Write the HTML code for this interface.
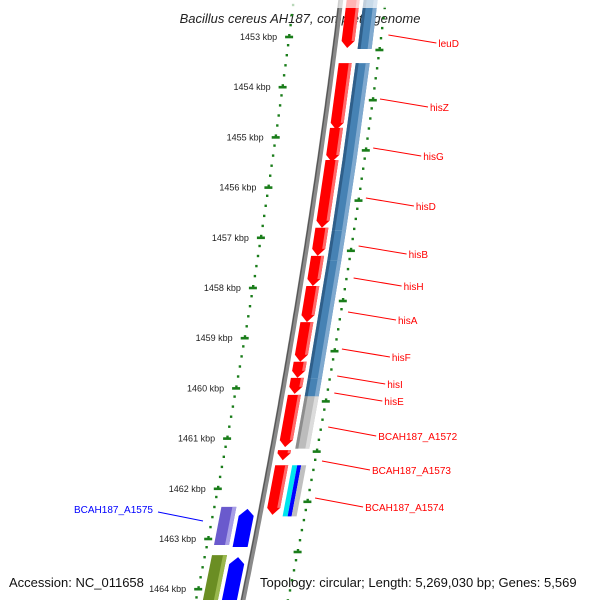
<!DOCTYPE html>
<html><head><meta charset="utf-8"><style>
html,body{margin:0;padding:0;background:#fff;}
svg{display:block;font-family:"Liberation Sans","DejaVu Sans",sans-serif;}
</style></head><body>
<svg id="map" width="600" height="600" viewBox="0 0 600 600" xmlns="http://www.w3.org/2000/svg">
<rect width="600" height="600" fill="#fff"/>
<text x="300" y="23" text-anchor="middle" font-size="13" font-style="italic" fill="#222">Bacillus cereus AH187, complete genome</text>
<g id="layer"></g>
<text x="9" y="587" font-size="13" fill="#111">Accession: NC_011658</text>
<text x="260" y="587" font-size="13" fill="#111">Topology: circular; Length: 5,269,030 bp; Genes: 5,569</text>
</svg>
<script>
const tickKbp = [1453,1454,1455,1456,1457,1458,1459,1460,1461,1462,1463,1464];
const geneNames = ["leuD","hisZ","hisG","hisD","hisB","hisH","hisA","hisF","hisI","hisE","BCAH187_A1572","BCAH187_A1573","BCAH187_A1574"];
const geneStart = [1452.16,1453.52,1454.81,1455.45,1456.80,1457.36,1457.96,1458.68,1459.47,1459.79,1460.13,1461.23,1461.53];
const geneEnd   = [1453.22,1454.85,1455.49,1456.80,1457.36,1457.96,1458.68,1459.47,1459.79,1460.11,1461.17,1461.43,1462.52];
const cdsStart = [1452.16,1453.52,1455.45,1456.85,1457.45,1459.80,1460.16];
const cdsEnd   = [1453.24,1455.45,1456.85,1457.45,1459.80,1460.16,1461.20];
const cdsKind  = ["blue","blue","blue","blue","blue","blue","gray"];
const revNames = ["BCAH187_A1575",""];
const revStart = [1462.36,1463.32];
const revEnd   = [1463.12,1464.60];
const revColor = ["#6a5acd","#6b8e23"];
const labelYs  = [43,107,156,206,254,286,320,357,384,401,436,470,507];

const NS="http://www.w3.org/2000/svg";
const layer=document.getElementById('layer');
function ky(k){return 37+(k-1453)*50.2;}
function bx(y){return 340.7-0.1218*y-0.0000684*y*y;}
function mk(tag,attrs){const e=document.createElementNS(NS,tag);for(const a in attrs)e.setAttribute(a,attrs[a]);layer.appendChild(e);return e;}
function band(y1,y2,o1,o2,fill,arrow){
  // arrow: 1 point down at y2, -1 point up at y1
  let p=[];const h=7;
  if(arrow===1){const ya=Math.max(y1,y2-h);
    p=[[bx(y1)+o1,y1],[bx(y1)+o2,y1],[bx(ya)+o2,ya],[bx(y2)+(o1+o2)/2,y2],[bx(ya)+o1,ya]];}
  else if(arrow===-1){const ya=Math.min(y2,y1+h);
    p=[[bx(y1)+(o1+o2)/2,y1],[bx(ya)+o2,ya],[bx(y2)+o2,y2],[bx(y2)+o1,y2],[bx(ya)+o1,ya]];}
  else p=[[bx(y1)+o1,y1],[bx(y1)+o2,y1],[bx(y2)+o2,y2],[bx(y2)+o1,y2]];
  return mk('polygon',{points:p.map(q=>q[0].toFixed(1)+','+q[1].toFixed(1)).join(' '),fill:fill});
}
// backbone
let d='';for(let y=-5;y<=605;y+=5){d+=(y<0?'M':'L')+(bx(y)).toFixed(1)+','+y;}
let e=mk('path',{d:d,stroke:'#8a8a8a','stroke-width':5,fill:'none'});


e=mk('path',{d:d,stroke:'#555','stroke-width':1.2,fill:'none',transform:'translate(-1.5,0)'});


// dotted ruler lines
for(let y=-5;y<=605;y+=10.04){
  e=mk('rect',{x:(bx(y)-47-1.2).toFixed(1),y:(y-1.2).toFixed(1),width:2.4,height:2.4,fill:'#1a7d1a'});
  
  
  const y2=y+3;
  e=mk('rect',{x:(bx(y2)+45-1.2).toFixed(1),y:(y2-1.2).toFixed(1),width:2.4,height:2.4,fill:'#1a7d1a'});
  
  
}
tickKbp.forEach(k=>{
  const y=ky(k);
  e=mk('rect',{x:(bx(y)-47-4).toFixed(1),y:(y-1.3).toFixed(1),width:8,height:2.6,fill:'#1a7d1a'});
  
  
  const y2=y+13;
  e=mk('rect',{x:(bx(y2)+45-4).toFixed(1),y:(y2-1.3).toFixed(1),width:8,height:2.6,fill:'#1a7d1a'});
  
  
  const t=mk('text',{x:(bx(y)-59).toFixed(1),y:(y+3).toFixed(1),'font-size':9,'text-anchor':'end',fill:'#222'});
  t.textContent=k+' kbp';
  
  
});
// CDS track (steelblue)
cdsStart.forEach((s,i)=>{
  const y1=ky(s),y2=ky(cdsEnd[i]);
  const main=cdsKind[i]==='blue'?'#4682b4':'#bcbcbc';
  const dark=cdsKind[i]==='blue'?'#2f5f8a':'#8d8d8d';
  const light=cdsKind[i]==='blue'?'#7fa9cf':'#dcdcdc';
  e=band(y1,y2,23,37,main,0);
  
  
  e=band(y1,y2,23,26,dark,0);
  
  
  e=band(y1,y2,33,37,light,0);
  
  
});
// A1574 colored stripes
{const y1=ky(1461.53),y2=ky(1462.55);
 e=band(y1,y2,23,28,'#00e5ee',0);
 e=band(y1,y2,28,32,'#0000ff',0);
 e=band(y1,y2,32,37,'#c0c0c0',0);}
// genes
geneNames.forEach((n,i)=>{
  const y1=ky(geneStart[i]),y2=ky(geneEnd[i]);
  e=band(y1,y2,6,19,'#ff0000',1);
  
  
  if(y2-y1>10){e=band(y1,y2-7,16,19,'#ff6a6a',0);
  
  }
  const ly=labelYs[i];
  const ty=ly-6-(i>=10?3:2);
  const lx=bx(ty)+52;
  const lb=mk('text',{x:0,y:ly+4,'font-size':10,fill:'#ff0000'});
  lb.textContent=n;
  
  
  const startX = lx + (i>=10?50:50);
  lb.setAttribute('x',startX.toFixed(1));
  const ln=mk('line',{x1:lx.toFixed(1),y1:ty.toFixed(1),x2:(startX-2).toFixed(1),y2:(ly).toFixed(1),stroke:'#ff0000','stroke-width':1});
  
  
});
// reverse genes
revStart.forEach((s,i)=>{
  const y1=ky(s),y2=ky(revEnd[i]);
  e=band(y1,y2,-40,-25,revColor[i],0);
  
  
  e=band(y1,y2,-29,-25,i===0?'#a89fe6':'#9ab84e',0);
  
  
  e=band(y1+2,y2+2,-21,-6,'#0000ff',-1);
  
  
  if(revNames[i]){
    const t=mk('text',{x:74,y:513,'font-size':10,fill:'#0000ff'});
    t.textContent=revNames[i];
    
    
    const l=mk('line',{x1:158,y1:512,x2:203,y2:521,stroke:'#0000ff','stroke-width':1});
    
    
  }
});
// fade at top
e=mk('rect',{x:0,y:0,width:600,height:8,fill:'#fff','fill-opacity':0.7});


</script>
</body></html>
